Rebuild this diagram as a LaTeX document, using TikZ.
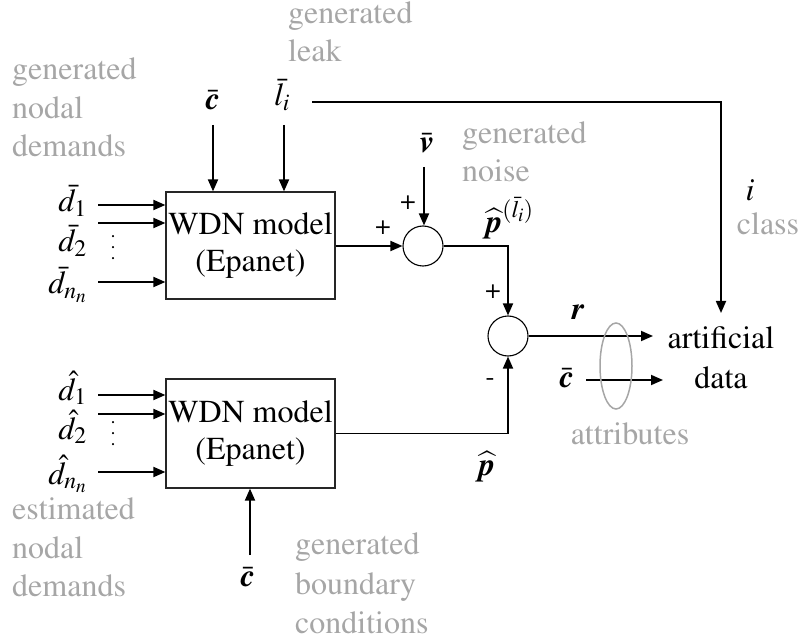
\documentclass[tikz,border=0pt]{standalone}
\usepackage[T1]{fontenc}
\usepackage{mathptmx}
\usepackage{amsmath}
\usetikzlibrary{arrows.meta}
\definecolor{lblgray}{RGB}{166,166,166}
% bold italic vector symbols
\newcommand{\bsym}[1]{\mbox{\bfseries\itshape #1}}
\tikzset{
  x=1pt, y=-1pt,
  arr/.style={-{Triangle[length=12pt,width=10pt]}, line width=1.8pt},
  blockbox/.style={draw=black!85, line width=1.2pt, minimum width=169pt,
    inner sep=0pt, align=center, font=\fontsize{32}{37}\selectfont},
  sumnode/.style={draw, circle, line width=1.1pt, minimum size=40pt, inner sep=0pt},
  note/.style={text=lblgray, inner sep=0pt, align=left, font=\fontsize{32}{38.5}\selectfont},
  sym/.style={inner sep=0pt, font=\fontsize{32}{38}\selectfont},
  sgn/.style={inner sep=0pt, font=\fontsize{27}{30}\selectfont},
  dotstack/.style={inner sep=0pt, align=center, font=\fontsize{20}{11}\selectfont}
}
\begin{document}
\begin{tikzpicture}
\useasboundingbox (0,0) rectangle (803,644);

% simulation blocks and summing junctions
\node[blockbox, minimum height=107pt] (wdnA) at (250.5,245.5) {WDN model\\(Epanet)};
\node[blockbox, minimum height=109pt] (wdnB) at (250.5,433.5) {WDN model\\(Epanet)};
\node[sumnode] (sumA) at (423,246) {};
\node[sumnode] (sumB) at (508,336) {};

% gray annotations
\node[note, anchor=north west] (gnd) at (12,58) {generated\\nodal\\demands};
\node[note, anchor=north west, font=\fontsize{32}{38}\selectfont] (gleak) at (288,2) {generated\\leak};
\node[note, anchor=north west, font=\fontsize{32}{38}\selectfont] (gnoise) at (462,122) {generated\\noise};
\node[note, anchor=north west, font=\fontsize{32}{39.5}\selectfont] (gbc) at (295,533) {generated\\boundary\\conditions};
\node[note, anchor=north west] (end) at (12,498) {estimated\\nodal\\demands};
\node[note, anchor=base] (cls) at (768,235) {class};
\node[note, anchor=base] (attr) at (630,444) {attributes};

% output
\node[inner sep=0pt, align=center, anchor=north, font=\fontsize{32}{40}\selectfont] (out) at (721,327) {artificial\\data};

% symbols
\node[sym] (cA) at (213,100) {$\bar{\bsym{c}}$};
\node[sym] (li) at (282,95) {$\bar{l}_i$};
\node[sym] (v) at (427,143) {$\bar{\bsym{v}}$};
\node[sym] (pl) at (510,218) {$\widehat{\bsym{p}}^{(\bar{l}_i)}$};
\node[sym] (r) at (578,312) {$\bsym{r}$};
\node[sym] (cB) at (567,378) {$\bar{\bsym{c}}$};
\node[sym] (ph) at (487,467) {$\widehat{\bsym{p}}$};
\node[sym] (cC) at (248,577) {$\bar{\bsym{c}}$};
\node[sym] (cl) at (750,190) {$i$};

\node[sym, anchor=base east] (d1) at (87,212) {$\bar{d}_1$};
\node[sym, anchor=base east] (d2) at (87,252) {$\bar{d}_2$};
\node[sym, anchor=base east] (dn) at (87,294) {$\bar{d}_{n_n}$};
\node[sym, anchor=base east] (e1) at (87,400) {$\hat{d}_1$};
\node[sym, anchor=base east] (e2) at (87,439) {$\hat{d}_2$};
\node[sym, anchor=base east] (en) at (87,484) {$\hat{d}_{n_n}$};
\node[dotstack] (dotsA) at (113,248) {.\\.\\.};
\node[dotstack] (dotsB) at (113,434) {.\\.\\.};

% signs
\node[sgn] (sA1) at (383,228) {+};
\node[sgn] (sA2) at (408,203) {+};
\node[sgn] (sB1) at (493,292) {+};
\node[sgn] (sB2) at (490,382) {-};

% free ends of connectors
\coordinate (cAtail) at (213,125);
\coordinate (litail) at (284,125);
\coordinate (lline) at (312,102);
\coordinate (clstip) at (721,313);
\coordinate (vtail) at (424,167);
\coordinate (rtip) at (653,336);
\coordinate (cBtail) at (586,380);
\coordinate (cBtip) at (663,380);
\coordinate (cCtail) at (250,555);
\coordinate (in1) at (98,205);
\coordinate (in2) at (98,223);
\coordinate (in3) at (98,282);
\coordinate (in4) at (98,395);
\coordinate (in5) at (98,414);
\coordinate (in6) at (98,472);

% inputs of the upper model
\draw[arr] (cAtail) -- (cAtail |- wdnA.north);
\draw[arr] (litail) -- (litail |- wdnA.north);
\draw[arr] (in1) -- (in1 -| wdnA.west);
\draw[arr] (in2) -- (in2 -| wdnA.west);
\draw[arr] (in3) -- (in3 -| wdnA.west);

% inputs of the lower model
\draw[arr] (in4) -- (in4 -| wdnB.west);
\draw[arr] (in5) -- (in5 -| wdnB.west);
\draw[arr] (in6) -- (in6 -| wdnB.west);
\draw[arr] (cCtail) -- (cCtail |- wdnB.south);

% residual computation
\draw[arr] (wdnA.east |- sumA) -- (sumA.west);
\draw[arr] (vtail) -- (vtail |- sumA.north);
\draw[arr] (sumA.east) -| (sumB.north);
\draw[arr] (wdnB.east) -| (sumB.south);
\draw[arr] (sumB.east) -- (rtip);
\draw[arr] (cBtail) -- (cBtip);
\draw[arr] (lline) -| (clstip);

% attribute grouping
\draw[lblgray, line width=1.5pt] (616,366) ellipse [x radius=16, y radius=43];
\end{tikzpicture}
\end{document}
